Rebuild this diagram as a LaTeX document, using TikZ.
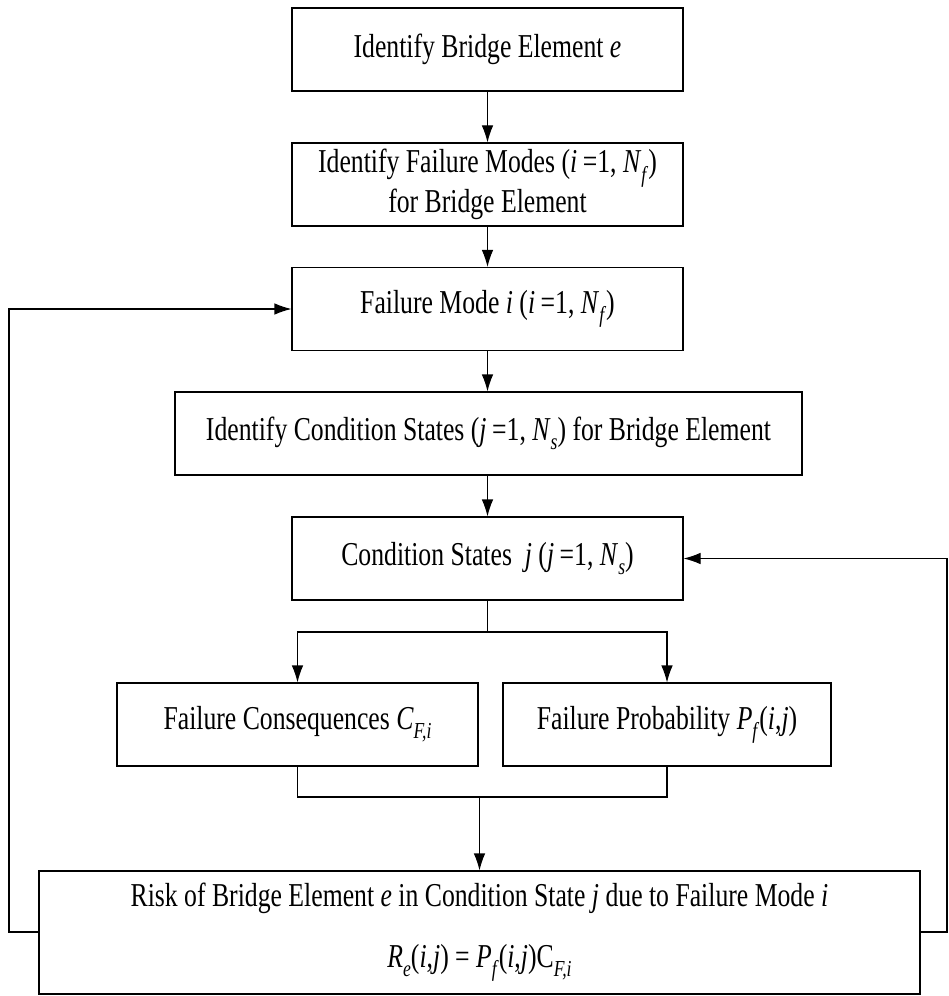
\documentclass[tikz,border=0pt]{standalone}
\usepackage{fontspec}
\setmainfont{Liberation Serif}[FakeStretch=0.77]
\usetikzlibrary{positioning,arrows.meta,calc}
\newcommand{\vi}[1]{\textit{#1}}
\newcommand{\lowsub}[1]{\raisebox{-0.6ex}{\fontsize{13}{13}\selectfont\textit{#1}}}
\tikzset{
  box/.style={draw, line width=0.6pt, minimum width=78.2mm, minimum height=16.6mm, align=center, inner sep=2pt},
  arr/.style={-{Latex[length=3.4mm,width=2.3mm]}, line width=0.6pt},
  ln/.style={line width=0.6pt}
}
\begin{document}
\begin{tikzpicture}[x=0.2mm, y=-0.2mm, font=\fontsize{19}{17.5}\selectfont]
            \useasboundingbox (0,0) rectangle (948,996);
            \node[box] (elem) at (487.5,49.5) {Identify Bridge Element \vi{e}};
            \node[box] (modes) at (487.5,184.5) {Identify Failure Modes (\vi{i}\,=1, \vi{N}\lowsub{f})\\for Bridge Element};
            \node[box] (mode) at (487.5,309) {Failure Mode \vi{i} (\vi{i}\,=1, \vi{N}\lowsub{f})};
            \node[box, minimum width=125.4mm] (states) at (488.5,433.5) {Identify Condition States (\vi{j}\,=1, \vi{N}\lowsub{s}) for Bridge Element};
            \node[box] (state) at (487.5,558.5) {Condition States \ \vi{j} (\vi{j}\,=1, \vi{N}\lowsub{s})};
            \node[box, minimum width=72.2mm] (cons) at (297.5,724.5) {Failure Consequences \vi{C}\lowsub{F,i}};
            \node[box, minimum width=65.6mm] (prob) at (667,724.5) {Failure Probability \vi{P}\lowsub{f}(\vi{i},\vi{j})};
            \node[box, minimum width=176.2mm, minimum height=24.6mm] (risk) at (479.5,932.5) {Risk of Bridge Element \vi{e} in Condition State \vi{j} due to Failure Mode \vi{i}\\[17pt]\vi{R}\lowsub{e}(\vi{i},\vi{j}) = \vi{P}\lowsub{f}(\vi{i},\vi{j})C\lowsub{F,i}};
            \coordinate (split) at (487.5,632);
            \coordinate (merge) at (479.5,797);
            \coordinate (lloop) at (9,932);
            \coordinate (rloop) at (947,932);

            \draw[arr] (elem) -- (modes);
            \draw[arr] (modes) -- (mode);
            \draw[arr] (mode) -- (states.north -| mode);
            \draw[arr] (states.south -| state) -- (state);
            \draw[ln] (state) -- (split);
            \draw[arr] (split) -| (cons);
            \draw[arr] (split) -| (prob);
            \draw[ln] (cons) |- (merge) -| (prob);
            \draw[arr] (merge) -- (risk);
            \draw[arr] (risk.west |- lloop) -- (lloop) |- (mode);
            \draw[arr] (risk.east |- rloop) -- (rloop) |- (state);
        \end{tikzpicture}
\end{document}
